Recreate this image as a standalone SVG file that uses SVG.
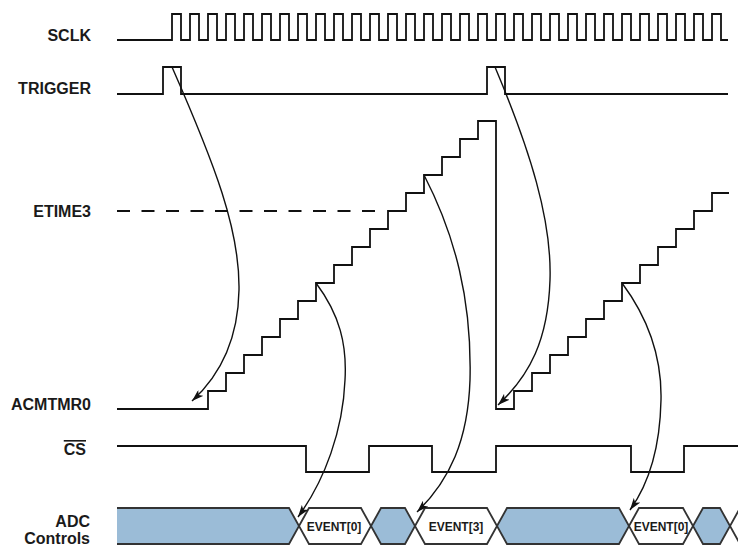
<svg xmlns="http://www.w3.org/2000/svg" width="738" height="546" viewBox="0 0 738 546">
<style>
.lbl{font-family:"Liberation Sans",Arial,sans-serif;font-weight:bold;font-size:16px;fill:#1a1a1a;text-anchor:end}
.ev{font-family:"Liberation Sans",Arial,sans-serif;font-weight:bold;font-size:12px;fill:#1a1a1a;text-anchor:middle}
.wave{fill:none;stroke:#111;stroke-width:1.8;stroke-linejoin:miter}
.bus{stroke:#333;stroke-width:1.8;stroke-linejoin:miter}
.blue{fill:#9bbcd7}
.white{fill:#fff}
.conn{fill:none;stroke:#111;stroke-width:1.4}
</style>
<defs>
<marker id="ah" viewBox="0 0 12 8" refX="12" refY="4" markerWidth="12" markerHeight="8" orient="auto" markerUnits="userSpaceOnUse">
<path d="M0,0 L12,4 L0,8 L3,4 Z" fill="#111"/>
</marker>
</defs>
<rect width="738" height="546" fill="#fff"/>

<g id="sclk">
<text class="lbl" x="91" y="41">SCLK</text>
<path class="wave" d="M117,40 H172 V14 H181 V40 H190 V14 H199 V40 H208 V14 H217 V40 H226 V14 H235 V40 H244 V14 H253 V40 H262 V14 H271 V40 H280 V14 H289 V40 H298 V14 H307 V40 H316 V14 H325 V40 H334 V14 H343 V40 H352 V14 H361 V40 H370 V14 H379 V40 H388 V14 H397 V40 H406 V14 H415 V40 H424 V14 H433 V40 H442 V14 H451 V40 H460 V14 H469 V40 H478 V14 H487 V40 H496 V14 H505 V40 H514 V14 H523 V40 H532 V14 H541 V40 H550 V14 H559 V40 H568 V14 H577 V40 H586 V14 H595 V40 H604 V14 H613 V40 H622 V14 H631 V40 H640 V14 H649 V40 H658 V14 H667 V40 H676 V14 H685 V40 H694 V14 H703 V40 H712 V14 H721 V40 H728"/>
</g>

<g id="trigger">
<text class="lbl" x="91" y="94">TRIGGER</text>
<path class="wave" d="M117,94 H163 V67 H181 V94 H487 V67 H505 V94 H728"/>
</g>

<g id="etime3">
<text class="lbl" x="91" y="217">ETIME3</text>
<path class="wave" d="M117,211 H376" stroke-dasharray="13 11.5"/>
</g>

<g id="acmtmr0">
<text class="lbl" x="91" y="410">ACMTMR0</text>
<path class="wave" d="M117,409 H208 V391 H226 V373 H244 V355 H262 V337 H280 V319 H298 V301 H316 V283 H334 V265 H352 V247 H370 V229 H388 V211 H406 V193 H424 V175 H442 V157 H460 V139 H478 V121 H496 V409 H514 V391 H532 V373 H550 V355 H568 V337 H586 V319 H604 V301 H622 V283 H640 V265 H658 V247 H676 V229 H694 V211 H712 V193 H729"/>
</g>

<g id="cs">
<text class="lbl" x="86" y="455" text-decoration="overline">CS</text>
<path class="wave" d="M117,446 H306 V472 H369 V446 H432 V472 H496 V446 H631 V472 H684 V446 H738"/>
</g>

<g id="adc">
<text class="lbl" x="90" y="527">ADC</text>
<text class="lbl" x="90" y="544">Controls</text>
<path class="bus blue" d="M117,508 H289 L299,526 L289,544 H117"/>
<path class="bus white" d="M299,526 L309,508 H361 L371,526 L361,544 H309 Z"/>
<path class="bus blue" d="M371,526 L381,508 H405 L415,526 L405,544 H381 Z"/>
<path class="bus white" d="M415,526 L425,508 H487 L497,526 L487,544 H425 Z"/>
<path class="bus blue" d="M497,526 L507,508 H619 L629,526 L619,544 H507 Z"/>
<path class="bus white" d="M629,526 L639,508 H683 L693,526 L683,544 H639 Z"/>
<path class="bus blue" d="M693,526 L703,508 H720 L730,526 L720,544 H703 Z"/>
<path class="bus white" d="M745,508 H740 L730,526 L740,544 H745"/>
<text class="ev" x="334" y="531">EVENT[0]</text>
<text class="ev" x="456" y="531">EVENT[3]</text>
<text class="ev" x="661" y="531">EVENT[0]</text>
</g>

<g id="connectors">
<path class="conn" marker-end="url(#ah)" d="M172,67 C215,165 240,230 239,290 C238,345 215,380 192,401"/>
<path class="conn" marker-end="url(#ah)" d="M316,283 C340,315 347,345 345,380 C343,430 325,480 298,517"/>
<path class="conn" marker-end="url(#ah)" d="M495,67 C530,150 552,220 550,280 C548,340 530,375 498,405"/>
<path class="conn" marker-end="url(#ah)" d="M424,175 C455,235 472,300 470,380 C468,440 450,480 417,512"/>
<path class="conn" marker-end="url(#ah)" d="M622,283 C648,318 662,355 661,400 C660,450 648,485 630,510"/>
</g>
</svg>
